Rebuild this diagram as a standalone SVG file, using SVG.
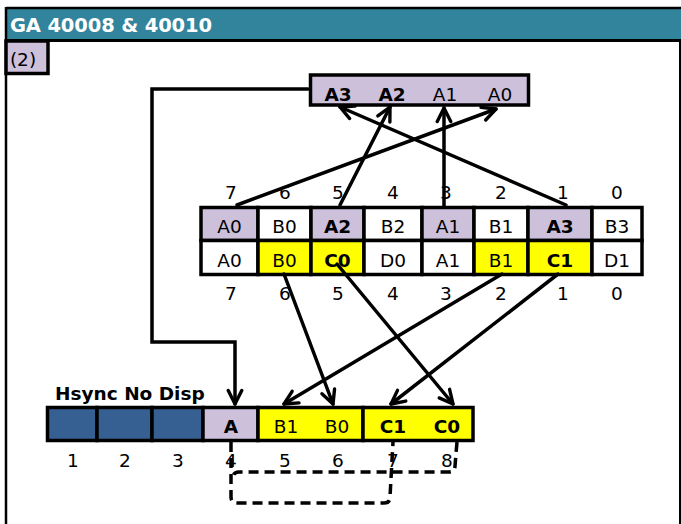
<svg xmlns="http://www.w3.org/2000/svg" width="681" height="524" viewBox="0 0 681 524">
<style>
.t{font-family:"DejaVu Sans",Verdana,sans-serif;font-size:18.5px;fill:#000;text-anchor:middle}
.b{font-weight:bold}
.cell{stroke:#000;stroke-width:3.5}
.lav{fill:#CCC0DA}
.yel{fill:#FFFF00}
.wht{fill:#FFFFFF}
.blu{fill:#366092}
.con{fill:none;stroke:#000;stroke-width:3.5;stroke-linecap:round}
.dash{fill:none;stroke:#000;stroke-width:3.5;stroke-dasharray:10 6}
</style>
<defs>
<marker id="ah" viewBox="0 0 16 16" refX="14" refY="8" markerWidth="18" markerHeight="18" orient="auto" markerUnits="userSpaceOnUse">
<path d="M2,2 L14,8 L2,14" fill="none" stroke="#000" stroke-width="3" stroke-linecap="round" stroke-linejoin="round"/>
</marker>
</defs>
<rect x="0" y="0" width="681" height="524" fill="#FFFFFF"/>
<g id="frame">
<rect x="6" y="8" width="676" height="32" fill="#31849B"/>
<line x1="6" y1="8" x2="681" y2="8" stroke="#000" stroke-width="2.5"/>
<line x1="6" y1="40.5" x2="681" y2="40.5" stroke="#000" stroke-width="3"/>
<line x1="6" y1="7" x2="6" y2="524" stroke="#000" stroke-width="2.5"/>
<line x1="680" y1="40" x2="680" y2="524" stroke="#000" stroke-width="2"/>
<text x="10" y="32" style="font-family:'DejaVu Sans',Verdana,sans-serif;font-size:19.5px;font-weight:bold;fill:#FFFFFF" textLength="202">GA 40008 &amp; 40010</text>
</g>
<g id="label2">
<rect x="6" y="41" width="42" height="32.5" class="cell lav"/>
<text x="23" y="66" class="t">(2)</text>
</g>
<g id="topbox">
<rect x="310.5" y="75" width="218" height="30" class="cell lav"/>
<text x="338" y="101" class="t b">A3</text>
<text x="392" y="101" class="t b">A2</text>
<text x="445" y="101" class="t">A1</text>
<text x="500" y="101" class="t">A0</text>
</g>
<g id="midtable">
<rect x="201" y="207.5" width="57" height="33" class="cell lav"/>
<rect x="258" y="207.5" width="53" height="33" class="cell wht"/>
<rect x="311" y="207.5" width="53" height="33" class="cell lav"/>
<rect x="364" y="207.5" width="58" height="33" class="cell wht"/>
<rect x="422" y="207.5" width="52" height="33" class="cell lav"/>
<rect x="474" y="207.5" width="54" height="33" class="cell wht"/>
<rect x="528" y="207.5" width="64" height="33" class="cell lav"/>
<rect x="592" y="207.5" width="50" height="33" class="cell wht"/>
<rect x="201" y="240.5" width="57" height="34" class="cell wht"/>
<rect x="258" y="240.5" width="53" height="34" class="cell yel"/>
<rect x="311" y="240.5" width="53" height="34" class="cell yel"/>
<rect x="364" y="240.5" width="58" height="34" class="cell wht"/>
<rect x="422" y="240.5" width="52" height="34" class="cell wht"/>
<rect x="474" y="240.5" width="54" height="34" class="cell yel"/>
<rect x="528" y="240.5" width="64" height="34" class="cell yel"/>
<rect x="592" y="240.5" width="50" height="34" class="cell wht"/>
<text x="229.5" y="233" class="t">A0</text>
<text x="284.5" y="233" class="t">B0</text>
<text x="337.5" y="233" class="t b">A2</text>
<text x="393" y="233" class="t">B2</text>
<text x="448" y="233" class="t">A1</text>
<text x="501" y="233" class="t">B1</text>
<text x="560" y="233" class="t b">A3</text>
<text x="617" y="233" class="t">B3</text>
<text x="229.5" y="267" class="t">A0</text>
<text x="284.5" y="267" class="t">B0</text>
<text x="337.5" y="267" class="t b">C0</text>
<text x="393" y="267" class="t">D0</text>
<text x="448" y="267" class="t">A1</text>
<text x="501" y="267" class="t">B1</text>
<text x="560" y="267" class="t b">C1</text>
<text x="617" y="267" class="t">D1</text>
</g>
<g id="midnumbers">
<text x="231" y="199" class="t">7</text>
<text x="285" y="199" class="t">6</text>
<text x="338" y="199" class="t">5</text>
<text x="393" y="199" class="t">4</text>
<text x="446" y="199" class="t">3</text>
<text x="501" y="199" class="t">2</text>
<text x="563" y="199" class="t">1</text>
<text x="617" y="199" class="t">0</text>
<text x="231" y="300" class="t">7</text>
<text x="285" y="300" class="t">6</text>
<text x="338" y="300" class="t">5</text>
<text x="393" y="300" class="t">4</text>
<text x="446" y="300" class="t">3</text>
<text x="501" y="300" class="t">2</text>
<text x="563" y="300" class="t">1</text>
<text x="617" y="300" class="t">0</text>
</g>
<g id="bottomrow">
<text x="55" y="400" class="t b" style="text-anchor:start">Hsync No Disp</text>
<rect x="47.5" y="407.5" width="49.5" height="33" class="cell blu"/>
<rect x="97" y="407.5" width="55" height="33" class="cell blu"/>
<rect x="152" y="407.5" width="51" height="33" class="cell blu"/>
<rect x="203" y="407.5" width="55" height="33" class="cell lav"/>
<rect x="258" y="407.5" width="105" height="33" class="cell yel"/>
<rect x="363" y="407.5" width="110" height="33" class="cell yel"/>
<text x="231" y="433" class="t b">A</text>
<text x="286" y="433" class="t">B1</text>
<text x="337" y="433" class="t">B0</text>
<text x="393" y="433" class="t b">C1</text>
<text x="447" y="433" class="t b">C0</text>
<text x="73" y="467" class="t">1</text>
<text x="125" y="467" class="t">2</text>
<text x="178" y="467" class="t">3</text>
<text x="231" y="467" class="t">4</text>
<text x="285" y="467" class="t">5</text>
<text x="338" y="467" class="t">6</text>
<text x="393" y="467" class="t">7</text>
<text x="447" y="467" class="t">8</text>
</g>
<g id="connectors">
<line x1="237" y1="205" x2="496" y2="109" class="con" marker-end="url(#ah)"/>
<line x1="340" y1="205" x2="390" y2="107" class="con" marker-end="url(#ah)"/>
<line x1="444" y1="207" x2="444" y2="108" class="con" marker-end="url(#ah)"/>
<line x1="566" y1="205" x2="340" y2="107" class="con" marker-end="url(#ah)"/>
<path d="M308,89 L152,89 L152,342 L235,342 L235,404" class="con" stroke-linejoin="miter" marker-end="url(#ah)"/>
<line x1="284" y1="274" x2="333" y2="404" class="con" marker-end="url(#ah)"/>
<line x1="337" y1="264" x2="453" y2="404" class="con" marker-end="url(#ah)"/>
<line x1="502" y1="274" x2="284" y2="404" class="con" marker-end="url(#ah)"/>
<line x1="558" y1="274" x2="391" y2="404" class="con" marker-end="url(#ah)"/>
<path d="M231,442 L231,497 Q231,503 237,503 L384,503 Q390,503 390,497 L393,442" class="dash"/>
<path d="M457,442 L455,466 Q455,472 449,472 L239,472 Q233,472 233,478" class="dash"/>
</g>
</svg>
